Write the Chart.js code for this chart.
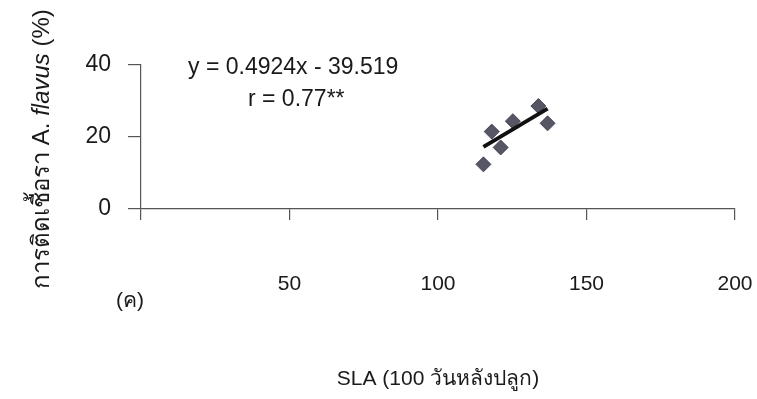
<!DOCTYPE html>
<html>
<head>
<meta charset="utf-8">
<script src="https://cdn.jsdelivr.net/npm/chart.js@4/dist/chart.umd.min.js"></script>
<style>
  html, body { margin: 0; padding: 0; background: #fff; }
  canvas { display: block; }
</style>
</head>
<body>
<canvas id="c" width="757" height="399"></canvas>
<script>
// SLA at 100 days after planting vs. A. flavus infection (%)
const slaValues = [115.3, 118.1, 121.1, 125.2, 133.8, 136.9];
const infectionValues = [12.4, 21.5, 17.1, 24.4, 28.6, 23.8];
const xTicks = [0, 50, 100, 150, 200];
const yTicks = [0, 20, 40];
const slope = 0.4924;
const intercept = -39.519;
const equationText = 'y = 0.4924x - 39.519';
const rText = 'r = 0.77**';
const panelLabel = '(ค)';
const xTitle = 'SLA (100 วันหลังปลูก)';
const yTitleParts = [
  ['การติดเชื้อรา ', false],
  ['A. ', false],
  ['flavus', true],
  [' (%)', false]
];

const FONT = "'Liberation Sans', Arial, 'Noto Sans', sans-serif";
const INK = '#1a1a1a';
const AXIS = '#555';

const points = slaValues.map((x, i) => ({ x, y: infectionValues[i] }));
const xMin = Math.min(...slaValues), xMax = Math.max(...slaValues);
const trend = [xMin, xMax].map(x => ({ x, y: slope * x + intercept }));

// Free-standing labels: y-axis title (with italic species name), equation, r, panel tag
const annotations = {
  id: 'annotations',
  afterDraw(chart) {
    const ctx = chart.ctx;
    ctx.save();
    ctx.fillStyle = INK;
    ctx.textBaseline = 'middle';

    // rotated y-axis title
    const size = 24;
    const fontFor = it => (it ? 'italic ' : '') + size + 'px ' + FONT;
    let total = 0;
    yTitleParts.forEach(([t, it]) => { ctx.font = fontFor(it); total += ctx.measureText(t).width; });
    ctx.translate(42, 149);
    ctx.rotate(-Math.PI / 2);
    let x = -total / 2;
    ctx.textAlign = 'left';
    yTitleParts.forEach(([t, it]) => {
      ctx.font = fontFor(it);
      ctx.fillText(t, x, 0);
      x += ctx.measureText(t).width;
    });
    ctx.setTransform(1, 0, 0, 1, 0, 0);

    ctx.font = '23px ' + FONT;
    ctx.textAlign = 'left';
    ctx.fillText(equationText, 188, 68);
    ctx.fillText(rText, 248, 100);

    ctx.font = '21px ' + FONT;
    ctx.textAlign = 'center';
    ctx.fillText(panelLabel, 130, 301);
    ctx.restore();
  }
};

new Chart(document.getElementById('c'), {
  type: 'scatter',
  data: {
    datasets: [
      {
        label: 'trend',
        type: 'line',
        data: trend,
        borderColor: '#111',
        borderWidth: 4,
        pointRadius: 0,
        fill: false,
        order: 0
      },
      {
        label: 'data',
        data: points,
        pointStyle: 'rectRot',
        pointRadius: 7.5,
        backgroundColor: 'rgba(72,72,88,0.92)',
        borderColor: 'rgba(60,60,75,0.9)',
        borderWidth: 1,
        order: 1
      }
    ]
  },
  options: {
    responsive: false,
    devicePixelRatio: 1,
    animation: false,
    layout: { padding: { top: 65, right: 22, bottom: 0, left: 0 } },
    plugins: { legend: { display: false }, tooltip: { enabled: false } },
    scales: {
      x: {
        type: 'linear',
        min: 0,
        max: 200,
        afterBuildTicks: s => { s.ticks = xTicks.map(v => ({ value: v })); },
        afterFit: s => { s.height = 190; s.paddingLeft = 0; s.paddingRight = 0; },
        border: { display: true, color: AXIS, width: 1.2 },
        grid: { display: true, drawOnChartArea: false, drawTicks: true, tickLength: 11, color: AXIS, lineWidth: 1.2 },
        ticks: {
          padding: 52,
          color: INK,
          font: { family: FONT, size: 21 },
          maxRotation: 0,
          callback: v => (v === 0 ? '' : String(v))
        },
        title: {
          display: true,
          text: xTitle,
          color: INK,
          font: { family: FONT, size: 21 },
          padding: { top: 0, bottom: 7 }
        }
      },
      y: {
        type: 'linear',
        min: 0,
        max: 40,
        afterBuildTicks: s => { s.ticks = yTicks.map(v => ({ value: v })); },
        afterFit: s => { s.width = 141; s.paddingTop = 0; s.paddingBottom = 0; },
        border: { display: true, color: AXIS, width: 1.2 },
        grid: { display: true, drawOnChartArea: false, drawTicks: true, tickLength: 13, color: AXIS, lineWidth: 1.2 },
        ticks: {
          padding: 17,
          color: INK,
          font: { family: FONT, size: 23 }
        }
      }
    }
  },
  plugins: [annotations]
});
</script>
</body>
</html>
